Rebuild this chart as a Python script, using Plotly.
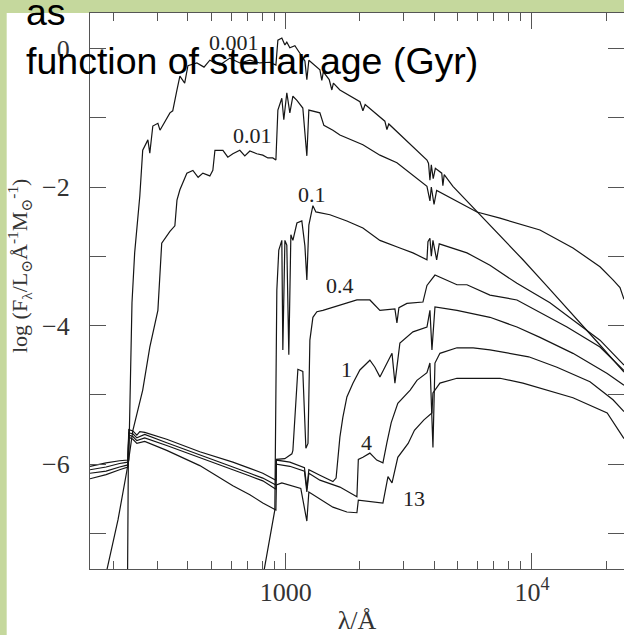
import numpy as np
import plotly.graph_objects as go

# ---------------- data (wavelength in Angstrom, log flux) ----------------
ages = ["0.001", "0.01", "0.1", "0.4", "1", "4", "13"]

wl_0001 = [175, 208, 230, 237, 243, 255, 262, 275, 280, 288, 302, 308, 338, 347, 361, 371, 388, 400,
           435, 465, 491, 539, 592, 650, 714, 784, 861, 911, 928, 963, 991, 1009, 1038, 1088, 1140,
           1195, 1217, 1240, 1375, 1400, 1420, 1500, 1538, 1560, 1658, 2000, 2056, 2100, 2525, 2574,
           2620, 3744, 3800, 3850, 3900, 3970, 4050, 4300, 4346, 4400, 4774, 5976, 7914, 9192,
           11508, 15236, 18897, 23660]
lf_0001 = [-8.0, -6.80, -5.94, -3.67, -2.95, -2.13, -1.47, -1.32, -1.51, -1.12, -1.08, -1.18, -0.93,
           -0.90, -0.60, -0.40, -0.50, -0.25, -0.21, -0.27, -0.17, -0.24, -0.14, -0.21, -0.17, -0.21,
           -0.20, -0.24, 0.12, 0.15, 0.05, 0.09, 0.01, 0.04, -0.07, -0.18, -0.45, -0.17, -0.31, -0.46,
           -0.34, -0.45, -0.60, -0.50, -0.60, -0.77, -0.90, -0.81, -1.05, -1.17, -1.09, -1.61, -1.66,
           -1.90, -1.68, -1.88, -1.73, -1.80, -1.98, -1.82, -1.99, -2.35, -2.81, -3.05, -3.43, -3.92,
           -4.28, -4.67]

wl_001 = [227, 229, 239, 262, 280, 302, 313, 338, 354, 361, 371, 396, 419, 440, 460, 491, 505, 515,
          555, 581, 609, 650, 681, 714, 762, 806, 845, 885, 911, 928, 963, 981, 1009, 1038, 1068,
          1109, 1172, 1217, 1240, 1375, 1427, 1553, 1658, 2056, 2411, 2827, 3744, 3850, 3900, 4000,
          4100, 4513, 5976, 7413, 9192, 10778, 14678, 18897, 21347, 22790, 23660]
lf_001 = [-8.0, -5.97, -5.51, -4.93, -4.31, -3.78, -2.81, -2.64, -2.56, -2.19, -2.04, -1.80, -1.76,
          -1.86, -1.80, -1.84, -1.76, -1.47, -1.47, -1.57, -1.52, -1.47, -1.55, -1.48, -1.52, -1.54,
          -1.58, -1.58, -1.61, -0.89, -0.72, -1.03, -0.64, -0.93, -0.69, -0.75, -0.86, -1.55, -0.89,
          -0.93, -1.11, -1.18, -1.25, -1.39, -1.54, -1.65, -1.99, -2.20, -2.00, -2.25, -2.05, -2.13,
          -2.36, -2.45, -2.55, -2.62, -2.88, -3.15, -3.34, -3.45, -3.62]

wl_01 = [776, 902, 919, 936, 963, 972, 991, 1009, 1028, 1048, 1068, 1109, 1161, 1195, 1217, 1240,
         1288, 1324, 1510, 1770, 2056, 2411, 2907, 3284, 3744, 3779, 3850, 3900, 3960, 4100, 4200,
         5443, 6750, 8690, 11836, 16117, 18897, 23660]
lf_01 = [-7.96, -6.66, -3.49, -2.91, -2.77, -4.35, -2.77, -2.84, -4.42, -2.69, -2.77, -2.52, -2.49,
         -2.85, -3.34, -2.55, -2.27, -2.36, -2.40, -2.49, -2.59, -2.77, -2.88, -2.95, -3.05, -2.79,
         -2.74, -3.00, -2.77, -3.05, -2.82, -2.95, -3.13, -3.39, -3.67, -4.02, -4.21, -4.57]

wl_04 = [160, 186, 211, 228, 230, 239, 248, 255, 267, 328, 447, 609, 714, 806, 911, 915, 990, 1058,
         1068, 1119, 1172, 1206, 1230, 1252, 1288, 1337, 1414, 1658, 1944, 2195, 2411, 2774, 2827,
         2880, 3104, 3606, 3744, 4035, 4957, 5443, 6750, 8690, 13877, 18897, 23660]
lf_04 = [-6.03, -5.98, -5.95, -5.94, -5.50, -5.52, -5.58, -5.53, -5.54, -5.64, -5.82, -5.97, -6.06,
         -6.13, -6.23, -5.93, -5.92, -5.85, -5.80, -4.63, -4.66, -5.77, -5.70, -4.21, -3.88, -3.80,
         -3.78, -3.70, -3.63, -3.63, -3.78, -3.76, -3.96, -3.74, -3.68, -3.66, -3.42, -3.27, -3.41,
         -3.41, -3.56, -3.63, -4.02, -4.31, -4.65]

wl_1 = [160, 186, 211, 228, 230, 239, 248, 267, 328, 447, 609, 714, 806, 911, 915, 1038, 1190, 1217,
        1240, 1375, 1553, 1600, 1658, 1705, 1770, 1873, 1999, 2195, 2300, 2411, 2574, 2700, 2774,
        2907, 3284, 3744, 3850, 3923, 4035, 4957, 6750, 8690, 10778, 14678, 20220, 23660]
lf_1 = [-6.08, -6.04, -5.99, -5.97, -5.55, -5.56, -5.62, -5.57, -5.69, -5.87, -6.04, -6.13, -6.20,
        -6.30, -5.94, -5.97, -6.05, -6.35, -6.08, -6.16, -6.25, -6.20, -5.61, -5.32, -5.03, -4.83,
        -4.64, -4.50, -4.60, -4.74, -4.54, -4.40, -4.83, -4.25, -4.09, -4.02, -3.78, -4.35, -3.73,
        -3.78, -3.88, -4.02, -4.17, -4.40, -4.69, -4.86]

wl_4 = [160, 186, 211, 228, 230, 239, 248, 267, 328, 447, 609, 714, 806, 911, 915, 1038, 1190, 1217,
        1240, 1375, 1658, 1944, 1970, 2056, 2195, 2340, 2480, 2574, 2680, 2850, 3200, 3409, 3744,
        3850, 3960, 4035, 4227, 4957, 5770, 6750, 8100, 9700, 12637, 17211, 21347, 23660]
lf_4 = [-6.13, -6.10, -6.04, -6.01, -5.58, -5.60, -5.66, -5.62, -5.73, -5.91, -6.08, -6.17, -6.24,
        -6.36, -6.00, -6.03, -6.10, -6.40, -6.13, -6.23, -6.33, -6.47, -5.93, -5.90, -5.84, -5.94,
        -5.98, -5.69, -5.40, -5.12, -4.93, -4.79, -4.68, -4.54, -5.76, -4.54, -4.40, -4.32, -4.32,
        -4.35, -4.40, -4.45, -4.60, -4.81, -5.07, -5.24]

wl_13 = [160, 186, 211, 228, 230, 239, 248, 267, 328, 447, 609, 714, 806, 911, 915, 963, 1150, 1217,
         1240, 1553, 1770, 1944, 1970, 2480, 2600, 2700, 2850, 3140, 3330, 3640, 3923, 3960, 4227,
         4957, 5770, 7413, 9192, 12637, 14678, 20220, 23660]
lf_13 = [-6.21, -6.15, -6.08, -6.04, -5.61, -5.64, -5.70, -5.67, -5.80, -6.02, -6.31, -6.44, -6.56,
         -6.66, -6.30, -6.27, -6.35, -6.82, -6.40, -6.62, -6.69, -6.70, -6.52, -6.56, -6.18, -6.27,
         -5.90, -5.70, -5.51, -5.36, -5.26, -4.97, -4.83, -4.76, -4.76, -4.76, -4.83, -4.97, -5.04,
         -5.26, -5.63]

# curve label anchor points (wavelength, log flux)
label_wl = [615, 735, 1276, 1658, 1770, 2133, 3311]
label_lf = [0.09, -1.25, -2.115, -3.414, -4.64, -5.69, -6.49]

x_major = [1000, 10000]
x_major_text = ["1000", "10<sup>4</sup>"]
x_minor = [200, 300, 400, 500, 600, 700, 800, 900, 2000, 3000, 4000, 5000, 6000, 7000, 8000, 9000, 20000]
y_major = [-6, -4, -2, 0]
y_major_text = ["−6", "−4", "−2", "0"]
y_minor = [-7, -5, -3, -1]
x_limits = [160, 23660]
y_limits = [-7.512, 0.511]

series = [(wl_0001, lf_0001), (wl_001, lf_001), (wl_01, lf_01), (wl_04, lf_04),
          (wl_1, lf_1), (wl_4, lf_4), (wl_13, lf_13)]

# ---------------- figure ----------------
fig = go.Figure()
for name, (wl, lf) in zip(ages, series):
    fig.add_trace(go.Scatter(x=wl, y=lf, mode="lines", name=name,
                             line=dict(color="#151515", width=1.2), showlegend=False))

serif = "Liberation Serif, DejaVu Serif, serif"
for name, wl, lf in zip(ages, label_wl, label_lf):
    fig.add_annotation(x=np.log10(wl), y=lf, text=name, showarrow=False,
                       font=dict(family=serif, size=22, color="#222"),
                       xanchor="center", yanchor="middle")

# y-axis title as a rotated annotation (placed like the original)
fig.add_annotation(xref="paper", yref="paper", x=-0.131, y=0.545, textangle=-90,
                   text="log (F<sub>λ</sub>/L<sub>⊙</sub>Å<sup>-1</sup>M<sub>⊙</sub><sup>-1</sup>)",
                   showarrow=False, xanchor="center", yanchor="middle",
                   font=dict(family=serif, size=22, color="#333"))

# white sheet behind the original figure
fig.add_shape(type="rect", xref="paper", yref="paper", x0=-0.156, x1=1.05, y0=-0.2, y1=1.0,
              fillcolor="white", line=dict(width=0), layer="below")

tickstyle = dict(ticks="inside", ticklen=16, tickwidth=1.2, tickcolor="#555")

fig.update_layout(
    width=624, height=635, autosize=False,
    margin=dict(l=90, r=0, t=13, b=66),
    paper_bgcolor="#c5d89d", plot_bgcolor="white",
    title=dict(text="as<br>function of stellar age (Gyr)",
               font=dict(family="Liberation Sans, Arial, sans-serif", size=37.5, color="black"),
               x=26 / 624, xref="container", xanchor="left",
               y=0.9606, yref="container", yanchor="top", pad=dict(t=0, l=0, b=0, r=0)),
    xaxis=dict(type="log", range=[np.log10(x_limits[0]), np.log10(x_limits[1])],
               tickmode="array", tickvals=x_major, ticktext=x_major_text, **tickstyle,
               minor=dict(tickmode="array", tickvals=x_minor, ticks="inside", ticklen=8,
                          tickwidth=1.2, tickcolor="#555"),
               showline=True, linecolor="#555", linewidth=1.2, mirror="allticks",
               showgrid=False, zeroline=False,
               tickfont=dict(family=serif, size=26, color="#333"),
               title=dict(text="λ/Å", font=dict(family=serif, size=26, color="#333"), standoff=4)),
    yaxis=dict(range=y_limits, tickmode="array", tickvals=y_major, ticktext=y_major_text, **tickstyle,
               minor=dict(tickmode="array", tickvals=y_minor, ticks="inside", ticklen=16,
                          tickwidth=1.2, tickcolor="#555"),
               showline=True, linecolor="#555", linewidth=1.2, mirror="allticks",
               showgrid=False, zeroline=False, ticklabelstandoff=14,
               tickfont=dict(family=serif, size=26, color="#333")),
)

fig.write_html("out.html")
